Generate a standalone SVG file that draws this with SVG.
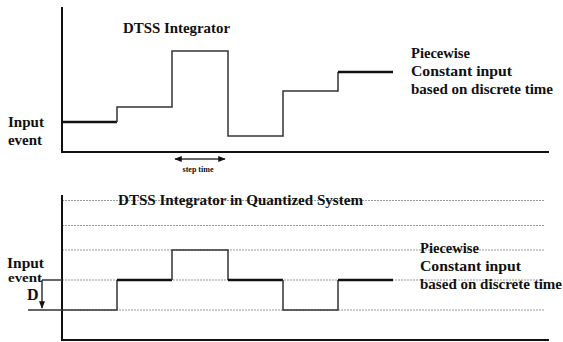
<svg xmlns="http://www.w3.org/2000/svg" width="563" height="342" viewBox="0 0 563 342">
<style>
.axis{stroke:#111;stroke-width:2;fill:none}
.sig{stroke:#333;stroke-width:1.5;fill:none}
.thick{stroke:#111;stroke-width:2.5;fill:none}
.grid{stroke:#999;stroke-width:1;stroke-dasharray:2 1;fill:none}
.lbl{font-family:"Liberation Serif",serif;font-weight:bold;font-size:14px;fill:#111}
.small{font-family:"Liberation Serif",serif;font-weight:bold;font-size:8px;fill:#111}
</style>
<defs>
<marker id="ah" viewBox="0 0 10 10" refX="9" refY="5" markerWidth="5" markerHeight="5" orient="auto-start-reverse">
<path d="M0,1 L10,5 L0,9 z" fill="#111"/>
</marker>
</defs>
<rect width="563" height="342" fill="#fff"/>
<g id="connectors">
<path class="axis" d="M62,7 V152 H549"/>
<path class="thick" d="M62,122 H117"/>
<path class="sig" d="M117,122 V107 H172 V51 H228 V136 H283 V91 H338 V72"/>
<path class="thick" d="M338,72 H393"/>
<line class="sig" x1="175" y1="159" x2="225" y2="159" marker-start="url(#ah)" marker-end="url(#ah)"/>
<line class="grid" x1="62" y1="200.5" x2="544" y2="200.5"/>
<line class="grid" x1="62" y1="225.5" x2="544" y2="225.5"/>
<line class="grid" x1="62" y1="250" x2="544" y2="250"/>
<line class="grid" x1="62" y1="280" x2="544" y2="280"/>
<line class="grid" x1="62" y1="310" x2="544" y2="310"/>
<path class="axis" d="M62,195 V340 H549"/>
<path class="sig" d="M28,310 H117 V280"/>
<path class="thick" d="M117,280 H172"/>
<path class="sig" d="M172,280 V250 H228 V280"/>
<path class="thick" d="M228,280 H283"/>
<path class="sig" d="M283,280 V310 H338 V280"/>
<path class="thick" d="M338,280 H393"/>
<line class="sig" x1="42" y1="280" x2="62" y2="280"/>
<line class="sig" stroke-width="1" x1="42" y1="280" x2="42" y2="308" marker-end="url(#ah)"/>
</g>
<g id="top-title"><text class="lbl" x="123" y="33" textLength="107" lengthAdjust="spacingAndGlyphs">DTSS Integrator</text></g>
<g id="top-input"><text class="lbl" x="8" y="127" textLength="36" lengthAdjust="spacingAndGlyphs">Input</text><text class="lbl" x="8" y="145" textLength="34" lengthAdjust="spacingAndGlyphs">event</text></g>
<g id="top-desc">
<text class="lbl" x="411" y="58" textLength="59" lengthAdjust="spacingAndGlyphs">Piecewise</text>
<text class="lbl" x="411" y="76" textLength="101" lengthAdjust="spacingAndGlyphs">Constant input</text>
<text class="lbl" x="411" y="94" textLength="142" lengthAdjust="spacingAndGlyphs">based on discrete time</text>
</g>
<g id="step-time"><text class="small" x="198" y="172" text-anchor="middle">step time</text></g>
<g id="bottom-title"><text class="lbl" x="118" y="205" textLength="245" lengthAdjust="spacingAndGlyphs">DTSS Integrator in Quantized System</text></g>
<g id="bottom-input"><text class="lbl" x="7" y="268" textLength="37" lengthAdjust="spacingAndGlyphs">Input</text><text class="lbl" x="8" y="282" textLength="34" lengthAdjust="spacingAndGlyphs" style="font-size:13px">event</text></g>
<g id="d-label"><text class="lbl" x="27" y="300" style="font-size:16px">D</text></g>
<g id="bottom-desc">
<text class="lbl" x="420" y="253" textLength="59" lengthAdjust="spacingAndGlyphs">Piecewise</text>
<text class="lbl" x="420" y="271" textLength="101" lengthAdjust="spacingAndGlyphs">Constant input</text>
<text class="lbl" x="420" y="289" textLength="142" lengthAdjust="spacingAndGlyphs">based on discrete time</text>
</g>
</svg>
